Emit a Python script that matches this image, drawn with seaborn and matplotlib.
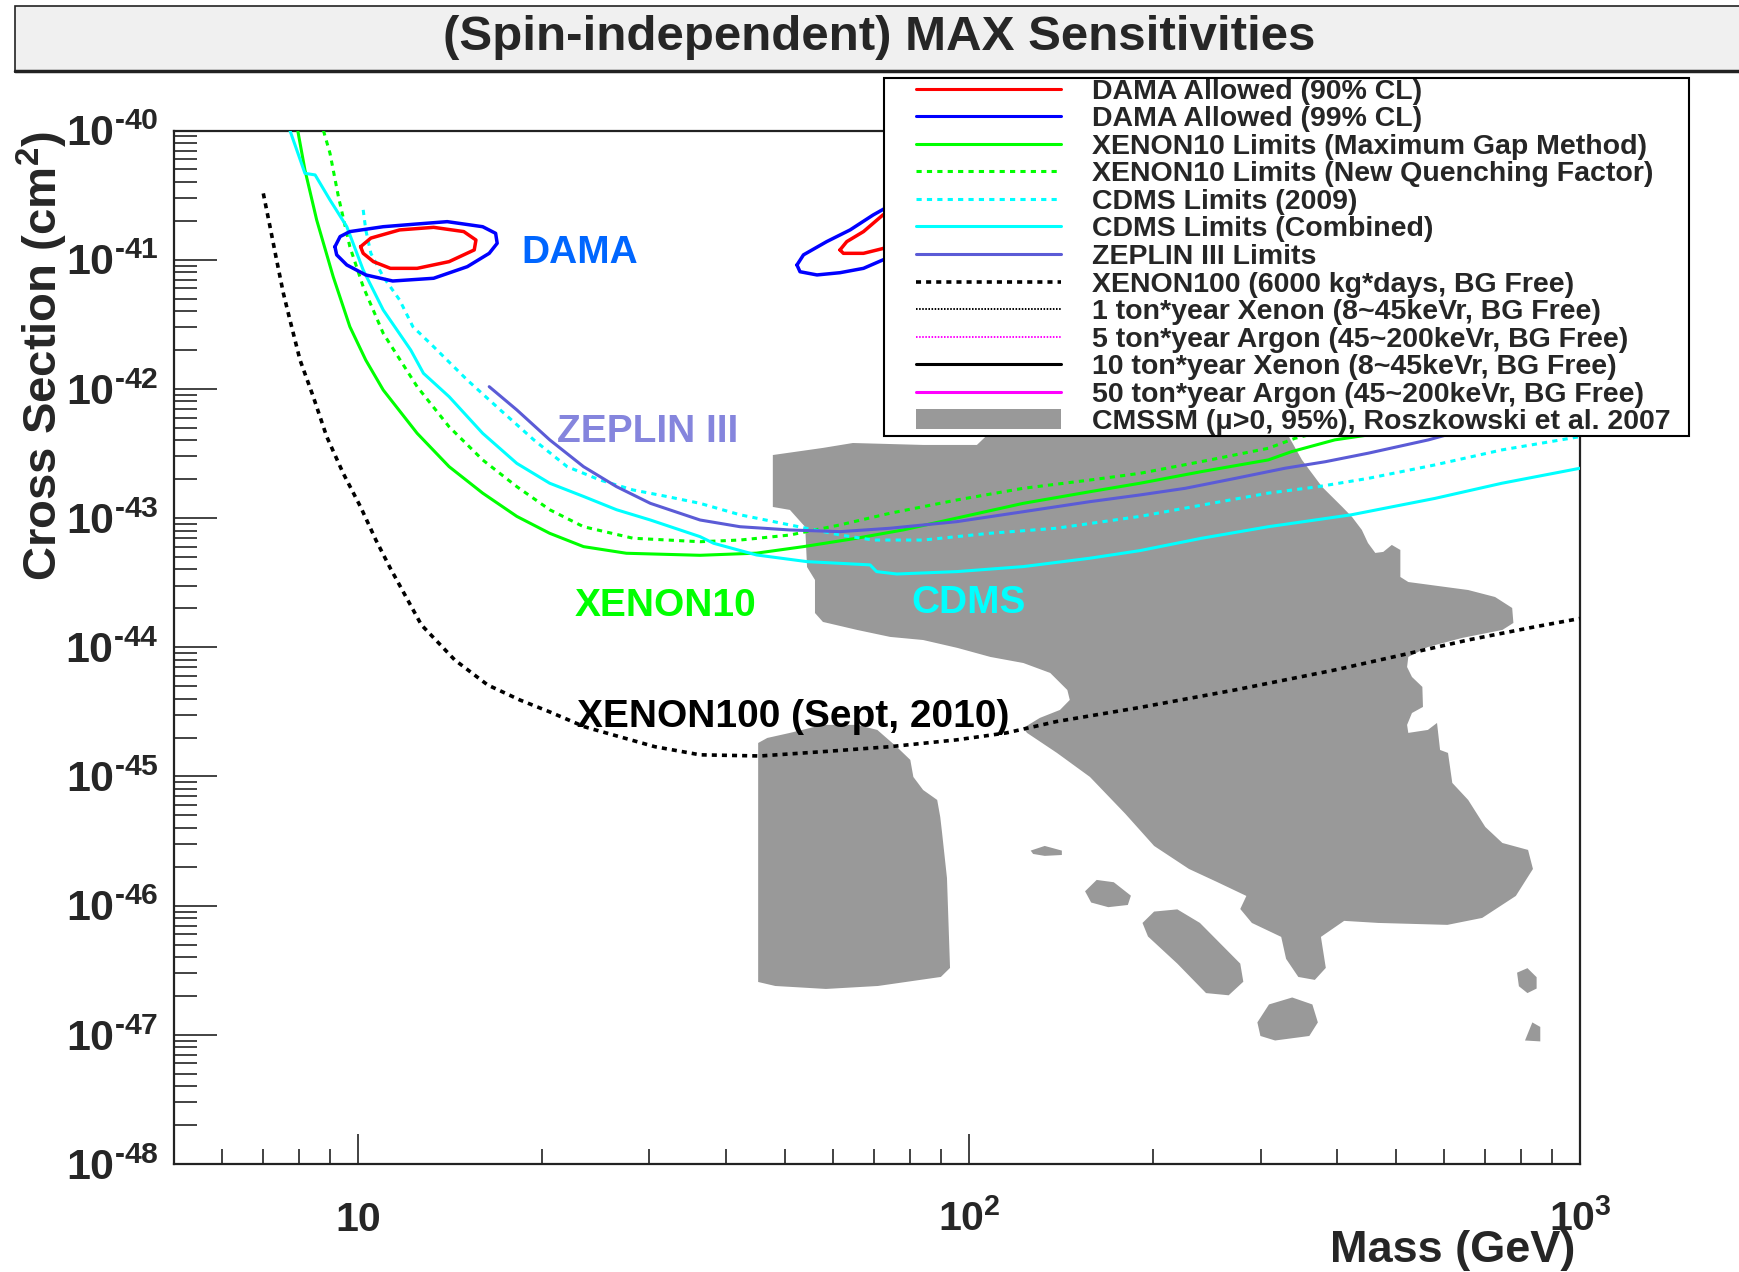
import numpy as np
import matplotlib
matplotlib.use("Agg")
import matplotlib.pyplot as plt
import seaborn as sns
from matplotlib import font_manager
from matplotlib.lines import Line2D
from matplotlib.patches import Patch, Rectangle
from matplotlib.legend_handler import HandlerLine2D, HandlerPatch
from matplotlib.ticker import LogLocator, NullFormatter

# ---------------------------------------------------------------
# Data (mass in GeV, cross section in cm^2)
# ---------------------------------------------------------------
xenon100_m = [7.00, 7.18, 7.36, 7.55, 7.74, 8.04, 8.45, 8.89, 9.46, 10.1, 10.7, 11.3, 12.7,
              14.4, 16.3, 18.4, 20.6, 23.5, 30.6, 36.3, 45.5, 59.3, 74.3, 95.5, 115, 139,
              190.5, 273, 397, 511, 657, 844, 1000]
xenon100_s = [3.26e-41, 1.80e-41, 9.95e-42, 5.50e-42, 3.41e-42, 1.67e-42, 8.71e-43, 4.27e-43,
              2.22e-43, 1.22e-43, 6.76e-44, 4.08e-44, 1.49e-44, 7.98e-45, 5.11e-45, 3.91e-45,
              3.16e-45, 2.42e-45, 1.70e-45, 1.47e-45, 1.44e-45, 1.57e-45, 1.70e-45, 1.92e-45,
              2.17e-45, 2.66e-45, 3.42e-45, 4.68e-45, 6.67e-45, 8.71e-45, 1.14e-44, 1.44e-44,
              1.67e-44]

xenon10_m = [7.97, 8.19, 8.56, 9.11, 9.70, 10.3, 11.0, 12.5, 14.1, 16.0, 18.2, 20.6, 23.4,
             27.5, 36.3, 44.9, 53.6, 65.5, 78.1, 95.5, 122.7, 157.8, 190.5, 240.4, 309, 337.5,
             397, 450.5, 600, 1000]
xenon10_s = [1.0e-40, 4.94e-41, 2.03e-41, 7.38e-42, 3.03e-42, 1.67e-42, 9.8e-43, 4.53e-43,
             2.50e-43, 1.56e-43, 1.03e-43, 7.62e-44, 6.01e-44, 5.34e-44, 5.15e-44, 5.35e-44,
             6.01e-44, 6.98e-44, 8.10e-44, 1.0e-43, 1.30e-43, 1.60e-43, 1.86e-43, 2.29e-43,
             2.82e-43, 3.27e-43, 4.03e-43, 4.4e-43, 6.0e-43, 1.0e-42]

xenon10_nqf_m = [8.78, 9.00, 9.29, 9.70, 10.2, 11.0, 12.5, 14.1, 16.0, 18.2, 20.6, 23.4, 28.2,
                 36.3, 42.2, 50.9, 61.5, 74.3, 95.5, 122.7, 157.8, 190.5, 240.4, 309, 342,
                 500, 1000]
xenon10_nqf_s = [1.0e-40, 6.67e-41, 3.08e-41, 1.26e-41, 6.18e-42, 2.69e-42, 1.04e-42, 5.09e-43,
                 2.82e-43, 1.75e-43, 1.16e-43, 8.57e-44, 6.98e-44, 6.56e-44, 6.76e-44, 7.39e-44,
                 8.85e-44, 1.09e-43, 1.38e-43, 1.70e-43, 1.97e-43, 2.22e-43, 2.74e-43, 3.47e-43,
                 4.15e-43, 6.5e-43, 1.3e-42]

cdms_comb_m = [7.74, 8.19, 8.51, 9.00, 9.59, 10.2, 11.0, 12.2, 12.8, 14.1, 16.0, 18.2, 20.6,
               23.4, 26.5, 30.1, 36.3, 38.2, 44.9, 54.3, 68.9, 70.6, 76.2, 95.5, 122.7, 157.8,
               190.5, 240.4, 309, 422.5, 579, 745, 1000]
cdms_comb_s = [1.0e-40, 4.66e-41, 4.53e-41, 2.90e-41, 1.80e-41, 8.32e-42, 4.08e-42, 2.0e-42,
               1.32e-42, 8.7e-43, 4.53e-43, 2.65e-43, 1.86e-43, 1.47e-43, 1.16e-43, 9.66e-44,
               7.18e-44, 6.38e-44, 5.18e-44, 4.60e-44, 4.34e-44, 3.85e-44, 3.69e-44, 3.85e-44,
               4.21e-44, 4.89e-44, 5.60e-44, 6.98e-44, 8.57e-44, 1.06e-43, 1.42e-43, 1.86e-43,
               2.43e-43]

cdms_2009_m = [10.2, 10.3, 10.5, 11.0, 11.7, 12.3, 13.3, 15.1, 17.1, 19.4, 22.0, 24.9, 28.2,
               32.0, 36.3, 42.2, 50.9, 61.5, 69.7, 84.2, 108, 139, 190.5, 240.4, 309, 373,
               450.5, 579, 745, 1000]
cdms_2009_s = [2.43e-41, 1.70e-41, 1.12e-41, 7.38e-42, 4.88e-42, 3.03e-42, 2.12e-42, 1.17e-42,
               6.87e-43, 4.03e-43, 2.50e-43, 1.97e-43, 1.65e-43, 1.47e-43, 1.30e-43, 1.06e-43,
               8.85e-44, 7.40e-44, 6.76e-44, 6.76e-44, 7.62e-44, 8.34e-44, 1.03e-43, 1.26e-43,
               1.56e-43, 1.75e-43, 2.03e-43, 2.58e-43, 3.37e-43, 4.27e-43]

zeplin_m = [16.4, 18.2, 20.6, 23.4, 26.5, 30.1, 36.3, 42.2, 50.9, 61.5, 74.3, 95.5, 122.7,
            157.8, 190.5, 226, 273, 329, 383, 450.5, 565, 1000]
zeplin_s = [1.04e-42, 6.87e-43, 4.03e-43, 2.50e-43, 1.75e-43, 1.30e-43, 9.66e-44, 8.57e-44,
            8.09e-44, 7.85e-44, 8.34e-44, 9.38e-44, 1.12e-43, 1.34e-43, 1.51e-43, 1.70e-43,
            2.03e-43, 2.43e-43, 2.73e-43, 3.18e-43, 4.03e-43, 8.5e-43]

# DAMA allowed regions (closed contours)
dama90_low_m = [10.1, 10.5, 11.7, 13.3, 14.9, 15.6, 15.5, 14.1, 12.5, 11.3, 10.6, 10.2]
dama90_low_s = [1.26e-41, 1.47e-41, 1.70e-41, 1.78e-41, 1.65e-41, 1.42e-41, 1.19e-41, 9.66e-42,
                8.57e-42, 8.57e-42, 9.66e-42, 1.12e-41]
dama99_low_m = [9.17, 9.35, 9.70, 11.0, 12.5, 14.0, 16.0, 16.8, 16.9, 16.4, 15.1, 13.3, 11.4,
                10.3, 9.59, 9.23]
dama99_low_s = [1.26e-41, 1.51e-41, 1.65e-41, 1.80e-41, 1.89e-41, 1.97e-41, 1.80e-41, 1.60e-41,
                1.34e-41, 1.12e-41, 8.83e-42, 7.18e-42, 6.84e-42, 7.62e-42, 9.10e-42, 1.09e-41]
dama99_high_m = [52.3, 53.6, 58.5, 63.9, 69.7, 77.1, 86.4, 90.0, 81.6, 72.3, 67.2, 61.5, 56.4, 52.9]
dama99_high_s = [9.1e-42, 1.09e-41, 1.38e-41, 1.70e-41, 2.22e-41, 2.90e-41, 3.17e-41, 2.22e-41,
                 1.30e-41, 9.96e-42, 8.57e-42, 7.93e-42, 7.62e-42, 8.07e-42]
dama90_high_m = [61.5, 63.1, 67.2, 72.3, 80.1, 84.7, 77.1, 72.3, 67.2, 62.3]
dama90_high_s = [1.19e-41, 1.38e-41, 1.65e-41, 2.22e-41, 2.75e-41, 2.22e-41, 1.42e-41, 1.22e-41,
                 1.12e-41, 1.12e-41]

# CMSSM 95% region, (log10 mass, log10 sigma) outline points
cmssm_main = [(1.679, -42.512), (1.761, -42.457), (1.810, -42.419), (1.925, -42.434),
              (2.013, -42.434), (2.030, -42.357), (2.030, -42.086), (2.529, -42.086),
              (2.522, -42.357), (2.545, -42.550), (2.578, -42.759), (2.611, -42.914),
              (2.627, -42.992), (2.643, -43.092), (2.653, -43.193), (2.665, -43.270),
              (2.678, -43.262), (2.692, -43.208), (2.706, -43.247), (2.706, -43.456),
              (2.719, -43.495), (2.817, -43.557), (2.861, -43.611), (2.889, -43.696),
              (2.891, -43.812), (2.873, -43.866), (2.807, -43.928), (2.751, -43.998),
              (2.719, -44.075), (2.717, -44.153), (2.725, -44.230), (2.742, -44.307),
              (2.743, -44.462), (2.725, -44.509), (2.717, -44.601), (2.719, -44.663),
              (2.751, -44.640), (2.766, -44.586), (2.771, -44.795), (2.784, -44.818),
              (2.791, -45.050), (2.817, -45.182), (2.845, -45.391), (2.873, -45.515),
              (2.915, -45.569), (2.923, -45.716), (2.895, -45.925), (2.840, -46.095),
              (2.783, -46.149), (2.670, -46.134), (2.614, -46.118), (2.576, -46.242),
              (2.584, -46.482), (2.566, -46.575), (2.539, -46.552), (2.519, -46.412),
              (2.511, -46.242), (2.463, -46.134), (2.444, -46.026), (2.454, -45.925),
              (2.406, -45.817), (2.360, -45.716), (2.303, -45.538), (2.256, -45.290),
              (2.198, -45.004), (2.144, -44.818), (2.095, -44.663), (2.089, -44.625),
              (2.116, -44.547), (2.149, -44.485), (2.165, -44.408), (2.161, -44.331),
              (2.133, -44.199), (2.089, -44.122), (2.035, -44.075), (1.981, -44.005),
              (1.925, -43.944), (1.871, -43.920), (1.817, -43.866), (1.761, -43.804),
              (1.748, -43.735), (1.748, -43.479), (1.735, -43.379), (1.732, -43.069),
              (1.707, -42.937), (1.679, -42.914)]
cmssm_thumb = [(1.655, -44.741), (1.670, -44.702), (1.707, -44.663), (1.761, -44.601),
               (1.817, -44.601), (1.850, -44.640), (1.882, -44.772), (1.904, -44.872),
               (1.909, -45.004), (1.925, -45.105), (1.948, -45.182), (1.953, -45.314),
               (1.956, -45.437), (1.964, -45.786), (1.969, -46.482), (1.954, -46.552),
               (1.851, -46.622), (1.766, -46.645), (1.683, -46.622), (1.655, -46.591)]
cmssm_islands = [
    [(2.284, -46.134), (2.303, -46.046), (2.341, -46.029), (2.378, -46.134), (2.444, -46.449),
     (2.449, -46.589), (2.425, -46.694), (2.388, -46.677), (2.341, -46.449), (2.293, -46.239)],
    [(2.190, -45.889), (2.209, -45.801), (2.237, -45.819), (2.265, -45.923), (2.260, -45.995),
     (2.228, -46.012), (2.200, -45.976)],
    [(2.101, -45.574), (2.124, -45.538), (2.152, -45.574), (2.152, -45.608), (2.124, -45.615),
     (2.105, -45.600)],
    [(2.472, -46.904), (2.491, -46.765), (2.529, -46.711), (2.562, -46.765), (2.571, -46.904),
     (2.557, -47.009), (2.501, -47.044), (2.477, -47.009)],
    [(2.897, -46.519), (2.914, -46.484), (2.929, -46.554), (2.929, -46.642), (2.914, -46.677),
     (2.900, -46.624)],
    [(2.910, -47.044), (2.922, -46.904), (2.935, -46.939), (2.935, -47.051)],
]

legend_labels = [
    "DAMA Allowed (90% CL)",
    "DAMA Allowed (99% CL)",
    "XENON10 Limits (Maximum Gap Method)",
    "XENON10 Limits (New Quenching Factor)",
    "CDMS Limits (2009)",
    "CDMS Limits (Combined)",
    "ZEPLIN III Limits",
    "XENON100 (6000 kg*days, BG Free)",
    "1 ton*year Xenon (8~45keVr, BG Free)",
    "5 ton*year Argon (45~200keVr, BG Free)",
    "10 ton*year Xenon (8~45keVr, BG Free)",
    "50 ton*year Argon (45~200keVr, BG Free)",
    "CMSSM (\u03bc>0, 95%), Roszkowski et al. 2007",
]

ytick_vals = [1e-48, 1e-47, 1e-46, 1e-45, 1e-44, 1e-43, 1e-42, 1e-41, 1e-40]
ytick_labels = ["$\\mathbf{10^{\u2010%d}}$" % e for e in range(48, 39, -1)]
xtick_vals = [10, 100, 1000]
xtick_labels = ["10", r"$\mathbf{10^{2}}$", r"$\mathbf{10^{3}}$"]

# colours
RED, BLUE, GREEN, CYAN = "#ff0000", "#0000ff", "#00ff00", "#00ffff"
ZEP_LINE, ZEP_TEXT = "#5b5bd6", "#8585dd"
DAMA_TEXT = "#0066ff"
CMSSM_GRAY = "#999999"

# ---------------------------------------------------------------
# Style
# ---------------------------------------------------------------
sns.set_style("white")
plt.rcParams["font.family"] = ["Liberation Sans", "DejaVu Sans"]
plt.rcParams["font.weight"] = "bold"
plt.rcParams["mathtext.fontset"] = "custom"
plt.rcParams["mathtext.rm"] = "Liberation Sans:bold"
plt.rcParams["mathtext.bf"] = "Liberation Sans:bold"
plt.rcParams["mathtext.it"] = "Liberation Sans:bold:italic"

names = {f.name for f in font_manager.fontManager.ttflist}
narrow = "Liberation Sans Narrow" in names
label_family = ["Liberation Sans Narrow", "Liberation Sans"] if narrow else ["Liberation Sans"]
label_size = 34 if narrow else 28

fig = plt.figure(figsize=(17.39, 12.72), dpi=100)
ax = fig.add_axes([174 / 1739, 1 - 1164 / 1272, 1406 / 1739, 1033.5 / 1272])
ax.set_xscale("log")
ax.set_yscale("log")

# CMSSM region
for poly in [cmssm_main, cmssm_thumb] + cmssm_islands:
    p = np.array(poly)
    ax.fill(10 ** p[:, 0], 10 ** p[:, 1], color=CMSSM_GRAY, lw=0, zorder=1)

DOT = (0, (1.7, 1.7))
curves = [
    (xenon10_m, xenon10_s, GREEN, "-", 2.2),
    (xenon10_nqf_m, xenon10_nqf_s, GREEN, DOT, 2.2),
    (cdms_2009_m, cdms_2009_s, CYAN, DOT, 2.2),
    (cdms_comb_m, cdms_comb_s, CYAN, "-", 2.2),
    (zeplin_m, zeplin_s, ZEP_LINE, "-", 2.2),
    (xenon100_m, xenon100_s, "black", (0, (1.4, 1.4)), 2.6),
]
for m, s, c, ls, lw in curves:
    sns.lineplot(x=m, y=s, ax=ax, sort=False, estimator=None, color=c,
                 linestyle=ls, lw=lw, zorder=3)

contours = [
    (dama99_low_m, dama99_low_s, BLUE),
    (dama90_low_m, dama90_low_s, RED),
    (dama99_high_m, dama99_high_s, BLUE),
    (dama90_high_m, dama90_high_s, RED),
]
for m, s, c in contours:
    m = np.r_[m, m[:1]]
    s = np.r_[s, s[:1]]
    sns.lineplot(x=m, y=s, ax=ax, sort=False, estimator=None, color=c, lw=2.5, zorder=3)

# in-plot labels
lab_kw = dict(family=label_family, weight="bold", size=label_size, va="baseline",
              ha="left", zorder=6)
ax.text(18.5, 9.42e-42, "DAMA", color=DAMA_TEXT, **lab_kw)
ax.text(21.2, 3.90e-43, "ZEPLIN III", color=ZEP_TEXT, **lab_kw)
ax.text(22.6, 1.75e-44, "XENON10", color=GREEN, **lab_kw)
ax.text(80.6, 1.83e-44, "CDMS", color=CYAN, **lab_kw)
ax.text(22.8, 2.42e-45, "XENON100 (Sept, 2010)", color="black", **lab_kw)

# axes
ax.set_xlim(5, 1000)
ax.set_ylim(1e-48, 1e-40)
ax.set_yticks(ytick_vals, labels=ytick_labels)
ax.set_xticks(xtick_vals, labels=xtick_labels)
ax.xaxis.set_minor_locator(LogLocator(base=10, subs=np.arange(2, 10), numticks=60))
ax.yaxis.set_minor_locator(LogLocator(base=10, subs=np.arange(2, 10), numticks=60))
ax.xaxis.set_minor_formatter(NullFormatter())
ax.yaxis.set_minor_formatter(NullFormatter())
ax.tick_params(axis="y", which="major", direction="in", length=31, width=1.2, pad=11,
               labelsize=31, left=True, right=False, color="#222222")
ax.tick_params(axis="y", which="minor", direction="in", length=16.5, width=1.2,
               left=True, right=False, color="#222222")
ax.tick_params(axis="x", which="major", direction="in", length=21.5, width=1.2, pad=48,
               labelsize=29.5, bottom=True, top=False, color="#222222")
ax.tick_params(axis="x", which="minor", direction="in", length=11, width=1.2,
               bottom=True, top=False, color="#222222")
for t in ax.get_xticklabels():
    t.set_verticalalignment("baseline")
    t.set_fontweight("bold")
for t in ax.get_yticklabels():
    t.set_fontweight("bold")
for sp in ax.spines.values():
    sp.set_linewidth(1.6)
    sp.set_color("#222222")
    sp.set_visible(True)
ax.grid(False)

ax.set_xlabel("Mass (GeV)", fontsize=32.5, fontweight="bold", loc="right")
ax.xaxis.set_label_coords(0.997, -0.064)
ax.set_ylabel(r"Cross Section (cm$^{2}$)", fontsize=34, fontweight="bold", loc="top")
ax.yaxis.set_label_coords(-0.074, 1.0)

# legend
handles = [
    Line2D([], [], color=RED, lw=2.2),
    Line2D([], [], color=BLUE, lw=2.2),
    Line2D([], [], color=GREEN, lw=2.2),
    Line2D([], [], color=GREEN, lw=2.2, linestyle=DOT),
    Line2D([], [], color=CYAN, lw=2.2, linestyle=DOT),
    Line2D([], [], color=CYAN, lw=2.2),
    Line2D([], [], color=ZEP_LINE, lw=2.2),
    Line2D([], [], color="black", lw=2.6, linestyle=(0, (1.4, 1.4))),
    Line2D([], [], color="black", lw=1.4, linestyle=(0, (0.8, 0.8))),
    Line2D([], [], color="#ff00ff", lw=1.4, linestyle=(0, (0.8, 0.8))),
    Line2D([], [], color="black", lw=2.2),
    Line2D([], [], color="#ff00ff", lw=2.2),
    Patch(facecolor=CMSSM_GRAY, edgecolor="none"),
]
leg = ax.legend(handles, legend_labels, loc="upper left",
                bbox_to_anchor=(0.505, 1.0508, 0.5725, 0.0), mode="expand",
                borderaxespad=0, borderpad=0.02, labelspacing=0.055, handlelength=6.2,
                handleheight=0.7, handletextpad=1.09, fancybox=False, framealpha=1,
                edgecolor="black",
                prop=dict(family=["Liberation Sans", "DejaVu Sans"], weight="bold", size=20.5),
                handler_map={Line2D: HandlerLine2D(xpad=1.09), Patch: HandlerPatch(xpad=1.09)})
leg.get_frame().set_linewidth(1.5)
leg.set_zorder(10)

# title box
fig.patches.append(Rectangle((15 / 1739, 1 - 72 / 1272), 1.0, 66 / 1272,
                             transform=fig.transFigure, facecolor="#f0f0f0",
                             edgecolor="#222222", linewidth=1.2, zorder=0))
fig.add_artist(Line2D([15 / 1739, 1.0], [1 - 71 / 1272] * 2, transform=fig.transFigure,
                      color="#222222", lw=2.5))
fig.text(879 / 1739, 1 - 38 / 1272, "(Spin-independent) MAX Sensitivities", ha="center",
         va="center", fontsize=35.5, fontweight="bold")

fig.savefig("out.png", dpi=100)
